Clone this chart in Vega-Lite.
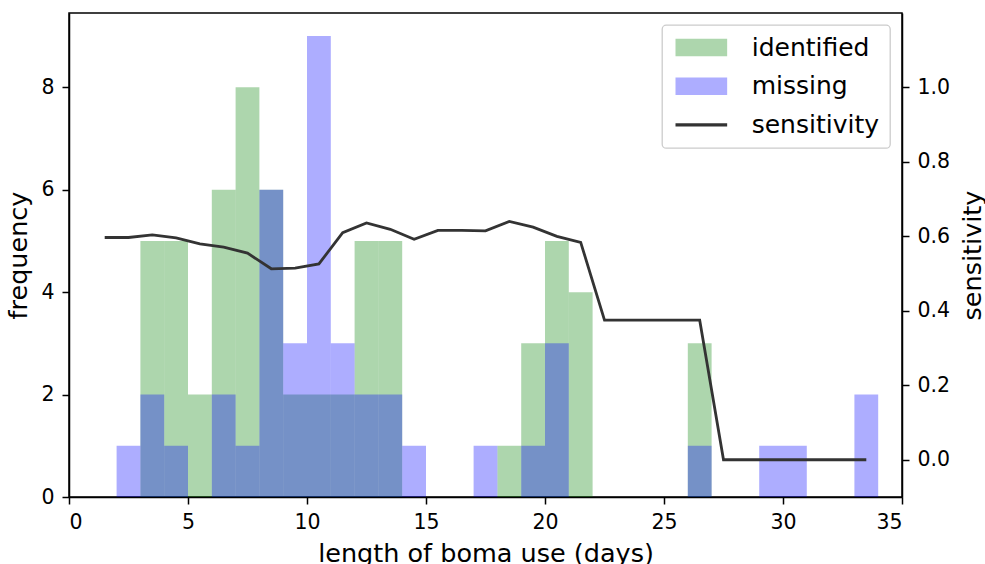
{
  "$schema": "https://vega.github.io/schema/vega-lite/v6.json",
  "autosize": {"type": "none"},
  "padding": {"left": 69, "top": 13, "right": 83, "bottom": 67},
  "width": 833,
  "height": 484,
  "background": "white",
  "config": {
    "font": "DejaVu Sans",
    "view": {"stroke": "black", "strokeWidth": 1.5},
    "axis": {
      "grid": false,
      "domainColor": "black",
      "domainWidth": 1.5,
      "tickColor": "black",
      "tickWidth": 1.5,
      "tickSize": 7,
      "labelFont": "DejaVu Sans",
      "labelFontSize": 20.5,
      "labelColor": "black",
      "labelPadding": 8,
      "titleFont": "DejaVu Sans",
      "titleFontSize": 25.5,
      "titleFontWeight": "normal",
      "titleColor": "black"
    },
    "legend": {
      "orient": "top-right",
      "offset": 12,
      "padding": 10,
      "strokeColor": "#cccccc",
      "strokeWidth": 1.3,
      "fillColor": "white",
      "cornerRadius": 4,
      "labelFont": "DejaVu Sans",
      "labelFontSize": 25,
      "labelColor": "black",
      "labelOffset": 54.7,
      "labelLimit": 0,
      "rowPadding": 12.7,
      "symbolSize": 324,
      "symbolStrokeWidth": 0
    }
  },
  "data": {
    "values": [
      {"day": 1, "day_end": 2, "mid": 1.5, "identified": 0, "missing": 0, "sensitivity": 0.597},
      {"day": 2, "day_end": 3, "mid": 2.5, "identified": 0, "missing": 1, "sensitivity": 0.597},
      {"day": 3, "day_end": 4, "mid": 3.5, "identified": 5, "missing": 2, "sensitivity": 0.604},
      {"day": 4, "day_end": 5, "mid": 4.5, "identified": 5, "missing": 1, "sensitivity": 0.596},
      {"day": 5, "day_end": 6, "mid": 5.5, "identified": 2, "missing": 0, "sensitivity": 0.580},
      {"day": 6, "day_end": 7, "mid": 6.5, "identified": 6, "missing": 2, "sensitivity": 0.571},
      {"day": 7, "day_end": 8, "mid": 7.5, "identified": 8, "missing": 1, "sensitivity": 0.555},
      {"day": 8, "day_end": 9, "mid": 8.5, "identified": 6, "missing": 6, "sensitivity": 0.513},
      {"day": 9, "day_end": 10, "mid": 9.5, "identified": 2, "missing": 3, "sensitivity": 0.515},
      {"day": 10, "day_end": 11, "mid": 10.5, "identified": 2, "missing": 9, "sensitivity": 0.526},
      {"day": 11, "day_end": 12, "mid": 11.5, "identified": 2, "missing": 3, "sensitivity": 0.610},
      {"day": 12, "day_end": 13, "mid": 12.5, "identified": 5, "missing": 2, "sensitivity": 0.636},
      {"day": 13, "day_end": 14, "mid": 13.5, "identified": 5, "missing": 2, "sensitivity": 0.619},
      {"day": 14, "day_end": 15, "mid": 14.5, "identified": 0, "missing": 1, "sensitivity": 0.592},
      {"day": 15, "day_end": 16, "mid": 15.5, "identified": 0, "missing": 0, "sensitivity": 0.616},
      {"day": 16, "day_end": 17, "mid": 16.5, "identified": 0, "missing": 0, "sensitivity": 0.616},
      {"day": 17, "day_end": 18, "mid": 17.5, "identified": 0, "missing": 1, "sensitivity": 0.615},
      {"day": 18, "day_end": 19, "mid": 18.5, "identified": 1, "missing": 0, "sensitivity": 0.640},
      {"day": 19, "day_end": 20, "mid": 19.5, "identified": 3, "missing": 1, "sensitivity": 0.625},
      {"day": 20, "day_end": 21, "mid": 20.5, "identified": 5, "missing": 3, "sensitivity": 0.600},
      {"day": 21, "day_end": 22, "mid": 21.5, "identified": 4, "missing": 0, "sensitivity": 0.584},
      {"day": 22, "day_end": 23, "mid": 22.5, "identified": 0, "missing": 0, "sensitivity": 0.375},
      {"day": 23, "day_end": 24, "mid": 23.5, "identified": 0, "missing": 0, "sensitivity": 0.375},
      {"day": 24, "day_end": 25, "mid": 24.5, "identified": 0, "missing": 0, "sensitivity": 0.375},
      {"day": 25, "day_end": 26, "mid": 25.5, "identified": 0, "missing": 0, "sensitivity": 0.375},
      {"day": 26, "day_end": 27, "mid": 26.5, "identified": 3, "missing": 1, "sensitivity": 0.375},
      {"day": 27, "day_end": 28, "mid": 27.5, "identified": 0, "missing": 0, "sensitivity": 0.0},
      {"day": 28, "day_end": 29, "mid": 28.5, "identified": 0, "missing": 0, "sensitivity": 0.0},
      {"day": 29, "day_end": 30, "mid": 29.5, "identified": 0, "missing": 1, "sensitivity": 0.0},
      {"day": 30, "day_end": 31, "mid": 30.5, "identified": 0, "missing": 1, "sensitivity": 0.0},
      {"day": 31, "day_end": 32, "mid": 31.5, "identified": 0, "missing": 0, "sensitivity": 0.0},
      {"day": 32, "day_end": 33, "mid": 32.5, "identified": 0, "missing": 0, "sensitivity": 0.0},
      {"day": 33, "day_end": 34, "mid": 33.5, "identified": 0, "missing": 2, "sensitivity": 0.0}
    ]
  },
  "layer": [
    {
      "layer": [
        {
          "transform": [{"filter": "datum.identified > 0"}],
          "mark": {"type": "bar", "color": "#008000", "opacity": 0.32},
          "encoding": {
            "x": {
              "field": "day", "type": "quantitative",
              "scale": {"domain": [0, 35], "nice": false, "zero": false},
              "axis": {"values": [0, 5, 10, 15, 20, 25, 30, 35], "title": "length of boma use (days)", "titleBaseline": "alphabetic", "titleY": 64.5}
            },
            "x2": {"field": "day_end"},
            "y": {
              "field": "identified", "type": "quantitative",
              "scale": {"domain": [0, 9.45], "nice": false},
              "axis": {"values": [0, 2, 4, 6, 8], "title": "frequency", "titleAngle": 270, "titleBaseline": "alphabetic", "titleX": -42.6, "titleY": 242}
            },
            "y2": {"datum": 0}
          }
        },
        {
          "transform": [{"filter": "datum.missing > 0"}],
          "mark": {"type": "bar", "color": "#0000ff", "opacity": 0.32},
          "encoding": {
            "x": {"field": "day", "type": "quantitative"},
            "x2": {"field": "day_end"},
            "y": {
              "field": "missing", "type": "quantitative",
              "axis": {"values": [0, 2, 4, 6, 8], "title": "frequency", "titleAngle": 270, "titleBaseline": "alphabetic", "titleX": -42.6, "titleY": 242}
            },
            "y2": {"datum": 0}
          }
        }
      ]
    },
    {
      "mark": {"type": "line", "color": "#333333", "strokeWidth": 2.8},
      "encoding": {
        "x": {"field": "mid", "type": "quantitative"},
        "y": {
          "field": "sensitivity", "type": "quantitative",
          "scale": {"domain": [-0.1, 1.2], "nice": false, "zero": false},
          "axis": {"orient": "right", "values": [0, 0.2, 0.4, 0.6, 0.8, 1.0], "format": ".1f", "title": "sensitivity", "titleAngle": 270, "titleBaseline": "alphabetic", "titleX": 78, "titleY": 242}
        }
      }
    },
    {
      "transform": [
        {"fold": ["identified", "missing", "sensitivity"], "as": ["series", "val"]},
        {"filter": "datum.day < 0"}
      ],
      "mark": {"type": "point", "filled": true, "opacity": 1, "size": 324},
      "encoding": {
        "color": {
          "field": "series", "type": "nominal",
          "scale": {"domain": ["identified", "missing", "sensitivity"], "range": ["#add6ad", "#adadff", "#333333"]},
          "legend": {"title": null}
        },
        "shape": {
          "field": "series", "type": "nominal",
          "scale": {"domain": ["identified", "missing", "sensitivity"], "range": ["M-1,-0.98H4.74V0.98H-1Z", "M-1,-0.98H4.74V0.98H-1Z", "M-1,-0.17H4.74V0.17H-1Z"]},
          "legend": {"title": null}
        }
      }
    }
  ],
  "resolve": {"scale": {"y": "independent"}}
}
